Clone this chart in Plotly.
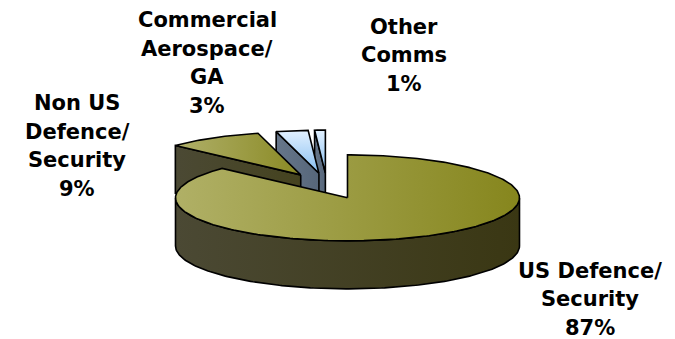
import numpy as np
import plotly.graph_objects as go

# ---- data -------------------------------------------------------------
categories = ["US Defence/<br>Security",
              "Non US<br>Defence/<br>Security",
              "Commercial<br>Aerospace/<br>GA",
              "Other<br>Comms"]
shares = [87, 9, 3, 1]  # percent of total

# ---- styling ----------------------------------------------------------
top_scales = [
    [[0, "#b0b066"], [1, "#86861d"]],
    [[0, "#b0b06a"], [1, "#8a8a24"]],
    [[0, "#86bdf0"], [1, "#e2f1ff"]],
    [[0, "#86bdf0"], [1, "#e2f1ff"]],
]
top_grad_type = ["horizontal", "horizontal", "vertical", "vertical"]
side_scales = [
    [[0, "#4b4934"], [1, "#3a3713"]],
    [[0, "#4b4934"], [1, "#45431f"]],
    [[0, "#66768a"], [1, "#56667a"]],
    [[0, "#66768a"], [1, "#56667a"]],
]
label_xy = [(590, 299), (77, 146), (207, 63), (404, 55)]
LABEL_GAP = 28.5       # distance between label lines, px
LABEL_FONT = dict(family="DejaVu Sans", size=21, color="black", weight="bold")

W, H = 675, 339
CX, CY = 327, 186      # pie centre (pixel space)
RX, RY = 172, 43       # ellipse radii of the tilted top face
DEPTH = 48             # thickness of the pie
PULL = 0.30            # explosion, as a fraction of the radius
LINE = dict(color="black", width=1.6)

total = float(sum(shares))
bounds = np.concatenate([[0.0], np.cumsum(shares) / total * 360.0])


def rim(theta, ox, oy, dz=0.0):
    t = np.radians(theta)
    return ox + RX * np.sin(t), oy - RY * np.cos(t) + dz


def arc(a, b, ox, oy, dz=0.0):
    n = max(2, int(abs(b - a)) + 2)
    th = np.linspace(a, b, n)
    return rim(th, ox, oy, dz)


fig = go.Figure()


def poly(xs, ys, scale, gtype):
    fig.add_trace(go.Scatter(
        x=list(xs), y=list(ys), mode="lines", fill="toself",
        fillgradient=dict(type=gtype, colorscale=scale),
        line=LINE, hoverinfo="skip", showlegend=False))


slices = []
for i in range(len(shares)):
    a, b = bounds[i], bounds[i + 1]
    mid = np.radians((a + b) / 2)
    ox = CX + PULL * RX * np.sin(mid)
    oy = CY - PULL * RY * np.cos(mid)
    slices.append((np.cos(mid), i, a, b, ox, oy))

# back-to-front painting order
slices.sort(key=lambda s: -s[0])

for _, i, a, b, ox, oy in slices:
    # outer wall on the front half of the rim
    lo, hi = max(a, 90.0), min(b, 270.0)
    if hi > lo:
        tx, ty = arc(lo, hi, ox, oy)
        bx, by = arc(hi, lo, ox, oy, DEPTH)
        poly(np.r_[tx, bx, tx[:1]], np.r_[ty, by, ty[:1]],
             side_scales[i], "horizontal")
    # radial cut faces that face the viewer
    for th, visible in ((a, np.sin(np.radians(a)) < -1e-6),
                        (b, np.sin(np.radians(b)) > 1e-6)):
        if visible:
            px, py = rim(th, ox, oy)
            poly([ox, px, px, ox, ox], [oy, py, py + DEPTH, oy + DEPTH, oy],
                 side_scales[i], "horizontal")
    # top face
    tx, ty = arc(a, b, ox, oy)
    poly(np.r_[ox, tx, ox], np.r_[oy, ty, oy], top_scales[i], top_grad_type[i])

# data labels, one annotation per line for wider line spacing
for name, val, (lx, ly) in zip(categories, shares, label_xy):
    lines = name.split("<br>") + [f"{val}%"]
    n = len(lines)
    for k, txt in enumerate(lines):
        fig.add_annotation(
            x=lx, y=ly + (k - (n - 1) / 2) * LABEL_GAP, text=txt,
            showarrow=False, xanchor="center", yanchor="middle",
            font=LABEL_FONT)

fig.update_layout(
    width=W, height=H, margin=dict(l=0, r=0, t=0, b=0),
    paper_bgcolor="white", plot_bgcolor="white",
    xaxis=dict(range=[0, W], visible=False, fixedrange=True),
    yaxis=dict(range=[H, 0], visible=False, fixedrange=True),
    showlegend=False,
)

fig.write_html("out.html")
